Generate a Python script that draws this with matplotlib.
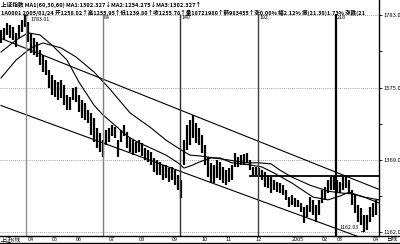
import matplotlib
matplotlib.use('Agg')
import matplotlib.pyplot as plt
import matplotlib.transforms as mtransforms

plt.rcParams['font.family'] = ['Liberation Sans Narrow', 'Noto Sans CJK SC', 'DejaVu Sans']

# ---- data (bar index = one bar per ~2 trading days) ----
high = [1740, 1746, 1760, 1754, 1749, 1732, 1754, 1769, 1783.01, 1763,
        1732, 1717, 1706, 1683, 1669, 1654, 1626, 1611, 1597, 1591,
        1597, 1583, 1554, 1548, 1574, 1577, 1554, 1540, 1531, 1511,
        1503, 1488, 1460, 1445, 1425, 1454, 1460, 1468, 1463, 1425,
        1454, 1468, 1448, 1431, 1425, 1420, 1425, 1417, 1402, 1397,
        1391, 1374, 1368, 1362, 1354, 1354, 1345, 1348, 1339, 1325,
        1311, 1425, 1468, 1482, 1497, 1474, 1460, 1440, 1411, 1377,
        1360, 1354, 1368, 1362, 1348, 1339, 1345, 1354, 1388, 1377,
        1382, 1385, 1388, 1368, 1348, 1348, 1345, 1339, 1334, 1325,
        1319, 1311, 1305, 1302, 1296, 1282, 1262, 1268, 1259, 1254,
        1245, 1234, 1239, 1262, 1254, 1239, 1254, 1282, 1291, 1311,
        1319, 1322, 1311, 1305, 1319, 1325, 1311, 1282, 1268, 1239,
        1231, 1211, 1211, 1234, 1245, 1254]
low = [1703, 1711, 1726, 1717, 1711, 1691, 1717, 1734, 1749, 1706,
       1674, 1669, 1663, 1640, 1620, 1611, 1574, 1554, 1548, 1540,
       1545, 1525, 1511, 1511, 1540, 1534, 1505, 1488, 1482, 1474,
       1440, 1420, 1402, 1391, 1377, 1411, 1420, 1437, 1431, 1377,
       1420, 1437, 1402, 1391, 1382, 1388, 1391, 1380, 1368, 1362,
       1354, 1334, 1325, 1325, 1311, 1317, 1305, 1311, 1296, 1282,
       1260, 1354, 1397, 1411, 1431, 1417, 1411, 1388, 1354, 1319,
       1302, 1302, 1317, 1311, 1302, 1296, 1305, 1311, 1348, 1348,
       1354, 1354, 1360, 1339, 1325, 1325, 1319, 1311, 1291, 1288,
       1274, 1282, 1276, 1274, 1268, 1254, 1234, 1239, 1234, 1234,
       1219, 1188, 1205, 1219, 1211, 1191, 1211, 1245, 1254, 1274,
       1282, 1282, 1274, 1274, 1282, 1288, 1274, 1239, 1216, 1191,
       1182, 1162.03, 1168, 1191, 1205, 1211]

ma60_idx = [0, 5, 10, 14, 20, 25, 31, 36, 43, 50, 55, 60, 63, 66, 71, 76,
            82, 86, 90, 93, 97, 103, 109, 113, 117, 121, 126]
ma60_val = [1603, 1654, 1689, 1703, 1689, 1663, 1620, 1574, 1503, 1460, 1425,
            1397, 1382, 1380, 1374, 1368, 1360, 1360, 1357, 1339, 1319, 1296,
            1279, 1274, 1271, 1262, 1254]
ma30_idx = [0, 5, 9, 13, 17, 22, 26, 31, 34, 39, 42, 46, 50, 55, 59, 61, 64,
            66, 70, 73, 77, 83, 87, 91, 97, 104, 109, 113, 116, 121, 126]
ma30_val = [1677, 1711, 1732, 1726, 1697, 1654, 1591, 1525, 1497, 1460, 1437,
            1417, 1402, 1382, 1360, 1345, 1354, 1362, 1374, 1374, 1360, 1354,
            1348, 1331, 1302, 1262, 1254, 1265, 1276, 1262, 1245]

grid_levels = [1783.0, 1575.0, 1369.0, 1162.0]
minor_levels = [1679.0, 1472.0, 1265.5]
month_pos = [9, 17, 25, 36, 46, 57, 67, 75, 85, 97, 107, 112, 124]
month_labels = ['04', '05', '06', '07', '08', '09', '10', '11', '12', '2005', '02', '03', '04']
vline_pos = [8.33, 34, 59.67, 85.67, 111.67]
vline_labels = ['', '84', '140', '192', '218']
vline_colors = ['#909090', '#808080', '#303030', '#404040', '#000000']
vline_widths = [1.0, 1.0, 1.0, 1.0, 1.6]
upper_x, upper_y = [0, 126], [1716, 1284]
lower_x, lower_y = [0, 126], [1524, 1127]
resist_x, resist_y = [83, 126], [1322, 1322]
peak_idx, peak_val = 8, 1783.01
trough_idx, trough_val = 121, 1162.03

header1 = '上证指数 MA1(60,30,60) MA1:1302.327↓MA2:1254.275↓MA3:1302.327↑'
header2 = ('1A0001 2005/01/24 开1258.02↑高1255.95↑低1239.80↑收1255.78↑'
           '量18721980↑额983455↑涨0.00% 幅2.12% 振(21.30)1.73% 涨跌(21')

# ---- figure ----
W, H = 400, 244
fig = plt.figure(figsize=(W / 100, H / 100), dpi=100)
fig.patch.set_facecolor('white')
ax = fig.add_axes([0, 8 / H, 379 / W, 236 / H])
ax.set_xlim(-1 / 3, 126)
ax.set_ylim(1150.6, 1826)

for g in grid_levels:
    ax.axhline(g, color='#888888', lw=0.6, ls=(0, (1, 1.5)))

xs = list(range(len(high)))
ax.vlines(xs, low, high, color='black', lw=1.6)

ax.plot(ma60_idx, ma60_val, color='black', lw=0.8)
ax.plot(ma30_idx, ma30_val, color='black', lw=0.8)
ax.plot(upper_x, upper_y, color='black', lw=0.8)
ax.plot(lower_x, lower_y, color='black', lw=0.8)
ax.plot(resist_x, resist_y, color='black', lw=1.3)

for xp, lab, c, w in zip(vline_pos, vline_labels, vline_colors, vline_widths):
    ax.vlines(xp, 1150.6, 1785, color=c, lw=w)
    if lab:
        ax.text(xp + 0.4, 1776, lab, fontsize=3.8, ha='left', va='center', color='black')

ax.annotate('1783.01', xy=(peak_idx, peak_val), xytext=(4, -3), textcoords='offset points',
            fontsize=3.8, ha='left', va='center',
            arrowprops=dict(arrowstyle='-', lw=0.5, color='black', shrinkA=0, shrinkB=0))
ax.annotate('1162.03', xy=(trough_idx, trough_val), xytext=(-4, 3), textcoords='offset points',
            fontsize=3.8, ha='right', va='center',
            arrowprops=dict(arrowstyle='-', lw=0.5, color='black', shrinkA=0, shrinkB=0))

# right axis
for s in ['left', 'top', 'bottom']:
    ax.spines[s].set_visible(False)
ax.spines['right'].set_linewidth(1.0)
ax.yaxis.tick_right()
ax.set_yticks(grid_levels)
ax.set_yticklabels(['%.1f' % g for g in grid_levels], fontsize=4.2)
ax.set_yticks(minor_levels, minor=True)
ax.tick_params(axis='y', which='major', length=2.5, width=0.6, pad=0.8, direction='out')
ax.tick_params(axis='y', which='minor', length=2.0, width=0.6, direction='out')
ax.set_xticks([])

# header
ax.text(1 / 379, 1 - 4.5 / 236, header1, transform=ax.transAxes, fontsize=4.1,
        ha='left', va='center', fontweight='bold', clip_on=True)
ax.text(1 / 379, 1 - 12.5 / 236, header2, transform=ax.transAxes, fontsize=4.0,
        ha='left', va='center', fontweight='bold', clip_on=True)

# bottom strip
fig.add_artist(plt.Line2D([0, 1], [8 / H, 8 / H], color='black', lw=1.0, transform=fig.transFigure))
fig.add_artist(plt.Line2D([0, 1], [0.6 / H, 0.6 / H], color='black', lw=1.0, transform=fig.transFigure))
trans = mtransforms.blended_transform_factory(ax.transData, fig.transFigure)
for p, lab in zip(month_pos, month_labels):
    ax.text(p, 4.3 / H, lab, transform=trans, fontsize=4.0, ha='left', va='center', clip_on=False)
fig.text(1 / W, 4.3 / H, '上证K线', fontsize=4.0, ha='left', va='center')
fig.text(386 / W, 4.3 / H, '日线', fontsize=4.0, ha='left', va='center')

fig.savefig('out.png', dpi=100, facecolor='white')
